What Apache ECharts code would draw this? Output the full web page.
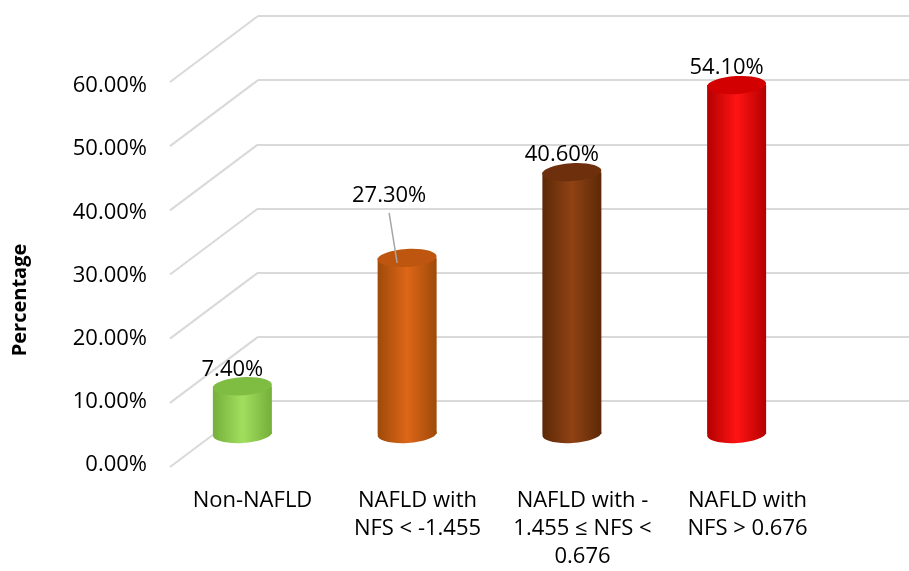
<!DOCTYPE html>
<html>
<head>
<meta charset="utf-8">
<script src="https://cdn.jsdelivr.net/npm/echarts@6/dist/echarts.min.js"></script>
<style>
  html, body { margin: 0; padding: 0; background: #fff; }
  #chart { width: 909px; height: 571px; }
</style>
</head>
<body>
<div id="chart"></div>
<script>
// categories and values
var categories = [
  'Non-NAFLD',
  'NAFLD with\nNFS < -1.455',
  'NAFLD with -\n1.455 ≤ NFS <\n0.676',
  'NAFLD with\nNFS > 0.676'
];
var percentages = [7.4, 27.3, 40.6, 54.1];
var yTicks = [0, 10, 20, 30, 40, 50, 60];

// cylinder colours: edge shade, middle highlight, top cap
var barColors = [
  { edge: '#74B03A', mid: '#A2DE5E', top: '#7FBC42' },
  { edge: '#9E4A09', mid: '#DE6618', top: '#BF5610' },
  { edge: '#5C2907', mid: '#904214', top: '#6E300C' },
  { edge: '#B40000', mid: '#FF1414', top: '#D20000' }
];

var FONT = '"Open Sans", "DejaVu Sans", sans-serif';
var DEPTH_X = 88, DEPTH_Y = 66; // floor depth of the 3d box

var chart = echarts.init(document.getElementById('chart'));

var option = {
  animation: false,
  backgroundColor: '#fff',
  grid: [
    // back wall
    { left: 258, top: 16, width: 651, height: 385 },
    // front plane (axis labels only)
    { left: 170, top: 86, width: 660, height: 385 },
    // cylinders
    { left: 160, top: 47, width: 659, height: 387 }
  ],
  xAxis: [
    { gridIndex: 0, type: 'category', data: categories, show: false },
    {
      gridIndex: 1,
      type: 'category',
      data: categories,
      axisLine: { show: false },
      axisTick: { show: false },
      axisLabel: {
        interval: 0,
        margin: 22,
        fontSize: 22,
        lineHeight: 28,
        color: '#000',
        fontFamily: FONT
      }
    },
    { gridIndex: 2, type: 'category', data: categories, show: false }
  ],
  yAxis: [
    {
      gridIndex: 0,
      type: 'value',
      min: 0,
      max: 60,
      interval: 10,
      axisLine: { show: false },
      axisTick: { show: false },
      axisLabel: { show: false },
      splitLine: { lineStyle: { color: '#D9D9D9', width: 2 } }
    },
    {
      gridIndex: 1,
      type: 'value',
      min: 0,
      max: 60,
      interval: 10,
      axisLine: { show: false },
      axisTick: { show: false },
      splitLine: { show: false },
      axisLabel: {
        margin: 23,
        fontSize: 22,
        color: '#000',
        fontFamily: FONT,
        formatter: function (v) {
          return v.toFixed(2) + '%';
        }
      }
    },
    { gridIndex: 2, type: 'value', min: 0, max: 60, show: false }
  ],
  graphic: [
    {
      type: 'text',
      x: 20,
      y: 300,
      rotation: Math.PI / 2,
      style: {
        text: 'Percentage',
        fill: '#000',
        font: 'bold 20px ' + FONT,
        align: 'center',
        verticalAlign: 'middle'
      }
    }
  ],
  series: [
    // diagonal floor-to-wall gridlines on the left side wall
    {
      type: 'custom',
      xAxisIndex: 0,
      yAxisIndex: 0,
      silent: true,
      data: yTicks.map(function (v) {
        return [0, v];
      }),
      renderItem: function (params, api) {
        var p = api.coord([0, api.value(1)]);
        var x0 = params.coordSys.x;
        return {
          type: 'line',
          shape: { x1: x0, y1: p[1], x2: x0 - DEPTH_X, y2: p[1] + DEPTH_Y },
          style: { stroke: '#D9D9D9', lineWidth: 2 }
        };
      }
    },
    // cylinders
    {
      type: 'custom',
      xAxisIndex: 2,
      yAxisIndex: 2,
      silent: true,
      data: percentages.map(function (v, i) {
        return [i, v];
      }),
      renderItem: function (params, api) {
        var idx = api.value(0);
        var val = api.value(1);
        var top = api.coord([idx, val]);
        var base = api.coord([idx, 0]);
        var rx = 29.5, ry = 9;
        var c = barColors[idx];
        var grad = new echarts.graphic.LinearGradient(0, 0, 1, 0, [
          { offset: 0, color: c.edge },
          { offset: 0.5, color: c.mid },
          { offset: 1, color: c.edge }
        ]);
        var children = [
          {
            type: 'ellipse',
            shape: { cx: base[0], cy: base[1], rx: rx, ry: ry },
            rotation: 0.06,
            originX: base[0],
            originY: base[1],
            style: { fill: grad }
          },
          {
            type: 'rect',
            shape: { x: base[0] - rx, y: top[1], width: rx * 2, height: base[1] - top[1] },
            style: { fill: grad }
          },
          {
            type: 'ellipse',
            shape: { cx: top[0], cy: top[1], rx: rx, ry: ry },
            rotation: 0.06,
            originX: top[0],
            originY: top[1],
            style: { fill: c.top }
          }
        ];
        var label = val.toFixed(2) + '%';
        if (idx === 1) {
          // raised label with leader line
          children.push({
            type: 'line',
            shape: { x1: top[0] - 18, y1: top[1] - 45, x2: top[0] - 10, y2: top[1] + 5 },
            style: { stroke: '#A6A6A6', lineWidth: 1.5 }
          });
          children.push({
            type: 'text',
            style: {
              text: label, x: top[0] - 18, y: top[1] - 62,
              fill: '#000', font: '22px ' + FONT, align: 'center', verticalAlign: 'middle'
            }
          });
        } else {
          children.push({
            type: 'text',
            style: {
              text: label, x: top[0] - 10, y: top[1] - 17,
              fill: '#000', font: '22px ' + FONT, align: 'center', verticalAlign: 'middle'
            }
          });
        }
        return { type: 'group', children: children };
      }
    }
  ]
};

chart.setOption(option);
</script>
</body>
</html>
